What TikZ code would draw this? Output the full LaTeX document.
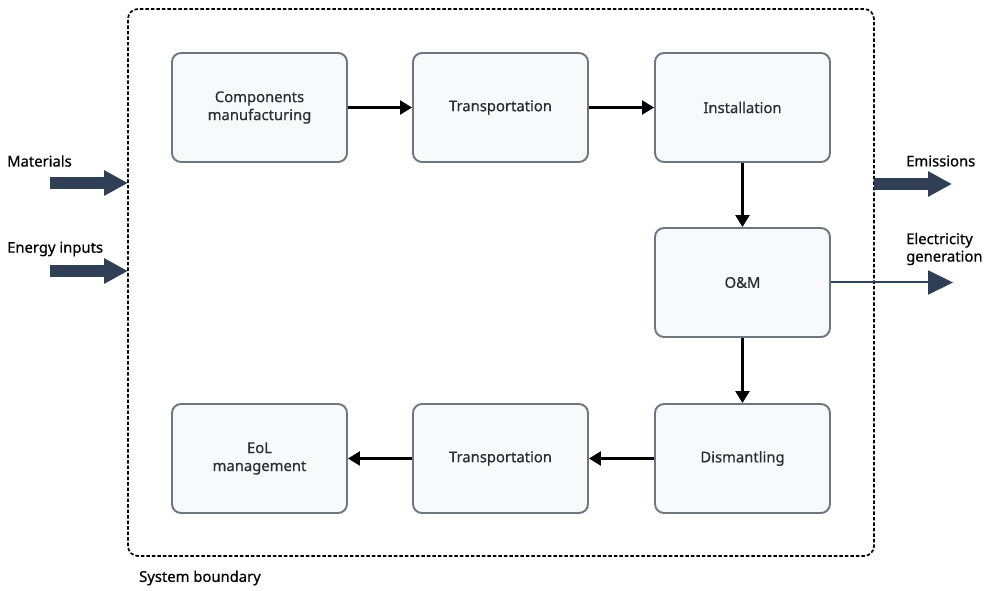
\documentclass[tikz,border=0pt]{standalone}
\usepackage{fontspec}
\setmainfont{Noto Sans}[FakeBold=0.6]
\usetikzlibrary{arrows.meta}
\definecolor{boxfill}{HTML}{F7F9FB}
\definecolor{boxline}{HTML}{6E7681}
\definecolor{navy}{HTML}{2F3F55}
\definecolor{txt}{HTML}{2A2E33}
\tikzset{
  x=1pt,y=1pt,
  stage/.style={draw=boxline, fill=boxfill, line width=1.9pt, rounded corners=9pt,
    minimum width=175pt, minimum height=109pt, align=center, text=txt,
    font=\fontsize{14.8}{18}\selectfont},
  flow/.style={line width=2.2pt, -{Triangle[width=14pt,length=12pt]}},
  bigarrow/.style={navy, line width=12pt, -{Triangle[width=24pt,length=24pt]}},
  outline/.style={draw=navy, line width=2pt, -{Triangle[width=24pt,length=25pt]}, navy},
  lbl/.style={text=black, font=\fontsize{14.8}{17.5}\selectfont, inner sep=0pt, align=left},
  boundary/.style={draw=black, line width=1.7pt, dash pattern=on 3.5pt off 2pt, rounded corners=10pt}
}
\begin{document}
\begin{tikzpicture}
\useasboundingbox (0,0) rectangle (988,590);
\fill[white] (0,0) rectangle (988,590);
% system boundary
\draw[boundary] (128,34) rectangle (874,581);
\coordinate (bL1) at (128,407);
\coordinate (bL2) at (128,319);
\coordinate (bR1) at (874,406);
\node[lbl, anchor=west] (sb) at (139,12) {System boundary};
% stages
\node[stage] (cm) at (259.5,482.5) {Components\\manufacturing};
\node[stage] (t1) at (500.5,482.5) {Transportation};
\node[stage] (in) at (742.5,482.5) {Installation};
\node[stage] (om) at (742.5,307.5) {O\&M};
\node[stage] (di) at (742.5,131.5) {Dismantling};
\node[stage] (t2) at (500.5,131.5) {Transportation};
\node[stage] (eol) at (259.5,131.5) {EoL\\management};
% flows
\draw[flow] (cm) -- (t1);
\draw[flow] (t1) -- (in);
\draw[flow] (in) -- (om);
\draw[flow] (om) -- (di);
\draw[flow] (di) -- (t2);
\draw[flow] (t2) -- (eol);
% inputs / outputs
\coordinate (mS) at (50,407);
\coordinate (eS) at (50,319);
\coordinate (emE) at (952,406);
\coordinate (elE) at (953,307.5);
\draw[bigarrow] (mS) -- (bL1);
\draw[bigarrow] (eS) -- (bL2);
\draw[bigarrow] (bR1) -- (emE);
\draw[outline] (om.east) -- (elE);
\node[lbl, anchor=west] (mat) at (7,429) {Materials};
\node[lbl, anchor=west] (ene) at (7,341) {Energy inputs};
\node[lbl, anchor=west] (emi) at (906,429) {Emissions};
\node[lbl, anchor=west] (ele) at (906,341) {Electricity\\generation};
\end{tikzpicture}
\end{document}
